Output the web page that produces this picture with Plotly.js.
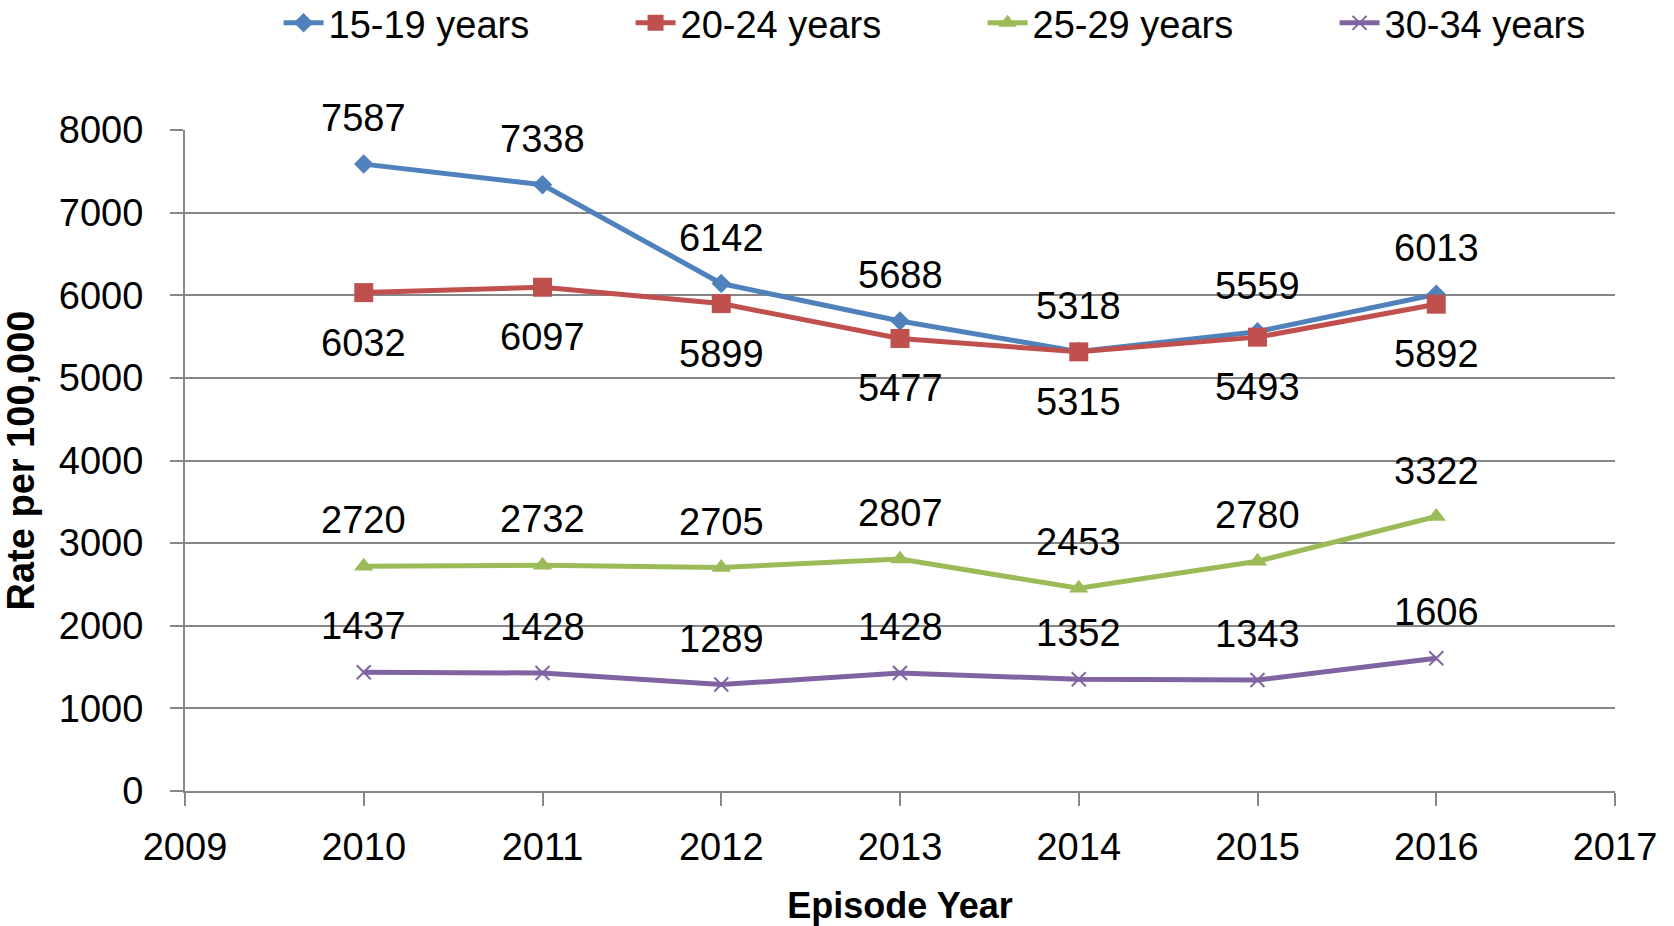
<!DOCTYPE html>
<html>
<head>
<meta charset="utf-8">
<script src="https://cdn.plot.ly/plotly-3.0.1.min.js"></script>
<style>
html,body{margin:0;padding:0;background:#fff;}
#chart{width:1674px;height:926px;}
</style>
</head>
<body>
<div id="chart"></div>
<script>
const years = [2010, 2011, 2012, 2013, 2014, 2015, 2016];
const seriesNames = ['15-19 years', '20-24 years', '25-29 years', '30-34 years'];
const rate15_19 = [7587, 7338, 6142, 5688, 5318, 5559, 6013];
const rate20_24 = [6032, 6097, 5899, 5477, 5315, 5493, 5892];
const rate25_29 = [2720, 2732, 2705, 2807, 2453, 2780, 3322];
const rate30_34 = [1437, 1428, 1289, 1428, 1352, 1343, 1606];
const yTicks = [0, 1000, 2000, 3000, 4000, 5000, 6000, 7000, 8000];
const xTicks = [2009, 2010, 2011, 2012, 2013, 2014, 2015, 2016, 2017];

const FONT = 'Liberation Sans, Arial, sans-serif';
const colors = ['#4F81BD', '#C0504D', '#9BBB59', '#8064A2'];
const symbols = ['diamond', 'square', 'triangle-up', 'x-thin'];
const sizes = [15, 19, 17, 14];
const allSeries = [rate15_19, rate20_24, rate25_29, rate30_34];
const labelShift = [46, -50, 46, 46];

const traces = allSeries.map((vals, i) => ({
  x: years, y: vals, name: seriesNames[i], type: 'scatter', mode: 'lines+markers',
  line: {color: colors[i], width: 5},
  marker: {symbol: symbols[i], size: sizes[i], color: colors[i],
           line: {color: colors[i], width: i === 3 ? 2 : 0}},
  hoverinfo: 'skip'
}));

const annotations = [];
allSeries.forEach((vals, i) => {
  vals.forEach((v, j) => {
    annotations.push({x: years[j], y: v, xref: 'x', yref: 'y', text: String(v),
      showarrow: false, yshift: labelShift[i], xanchor: 'center', yanchor: 'middle',
      font: {family: FONT, size: 38, color: '#000'}});
  });
});

const layout = {
  width: 1674, height: 926,
  margin: {l: 184.5, r: 58.5, t: 130, b: 135},
  paper_bgcolor: '#fff', plot_bgcolor: '#fff',
  font: {family: FONT, size: 38, color: '#000'},
  showlegend: true,
  legend: {orientation: 'h', xref: 'container', yref: 'container', x: 0.1664, y: 0.975,
           xanchor: 'left', yanchor: 'middle', font: {family: FONT, size: 38, color: '#000'},
           entrywidth: 297, entrywidthmode: 'pixels', itemwidth: 40, bgcolor: 'rgba(0,0,0,0)'},
  xaxis: {range: [2009, 2017], tickvals: xTicks, ticktext: xTicks.map(String), showgrid: false,
          zeroline: false, showline: true, linecolor: '#878787', linewidth: 2,
          ticks: 'outside', ticklen: 13, tickwidth: 2, tickcolor: '#878787',
          ticklabelstandoff: 8,
          tickfont: {family: FONT, size: 38, color: '#000'},
          title: {text: 'Episode Year', font: {family: FONT, size: 36, color: '#000', weight: 'bold'}, standoff: 28}},
  yaxis: {range: [0, 8000], tickvals: yTicks, ticktext: yTicks.map(String), showgrid: true,
          gridcolor: '#878787', gridwidth: 2, zeroline: false, showline: true,
          linecolor: '#878787', linewidth: 2, ticks: 'outside', ticklen: 13, tickwidth: 2,
          tickcolor: '#878787', ticklabelstandoff: 19,
          tickfont: {family: FONT, size: 38, color: '#000'},
          title: {text: 'Rate per 100,000', font: {family: FONT, size: 38, color: '#000', weight: 'bold'}, standoff: 15}},
  annotations: annotations
};

Plotly.newPlot('chart', traces, layout, {displayModeBar: false, staticPlot: true});
</script>
</body>
</html>
